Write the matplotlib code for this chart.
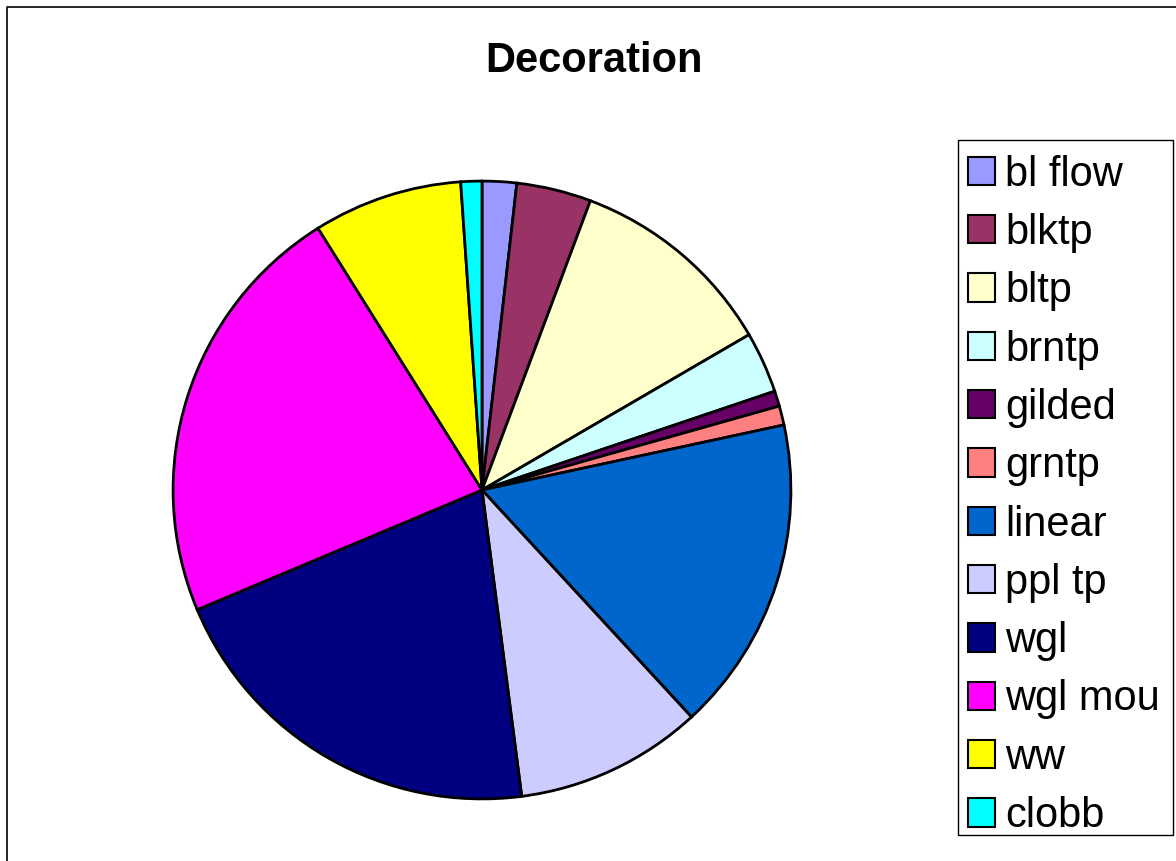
import matplotlib.pyplot as plt
from matplotlib.patches import Rectangle
from matplotlib.lines import Line2D

plt.rcParams["font.family"] = ["Liberation Sans", "DejaVu Sans"]

labels = ["bl flow", "blktp", "bltp", "brntp", "gilded", "grntp",
          "linear", "ppl tp", "wgl", "wgl mou", "ww", "clobb"]
values = [1.8, 3.9, 10.9, 3.2, 0.8, 1.0, 16.5, 9.8, 20.7, 22.4, 7.8, 1.1]
colors = ["#9999FF", "#993366", "#FFFFCC", "#CCFFFF", "#660066", "#FF8080",
          "#0066CC", "#CCCCFF", "#000080", "#FF00FF", "#FFFF00", "#00FFFF"]

W, H = 1176, 861
fig = plt.figure(figsize=(W / 100, H / 100), dpi=100)

# outer chart border (only top and left edges are inside the picture)
fig.add_artist(Line2D([7 / W, 7 / W, 1.0], [0.0, 1 - 7 / H, 1 - 7 / H],
                      transform=fig.transFigure, color="black", linewidth=1.2))

cx, cy, r = 482, 490, 312
ax = fig.add_axes([(cx - r) / W, (H - cy - r) / H, 2 * r / W, 2 * r / H])
wedges, _ = ax.pie(values, colors=colors, startangle=90, counterclock=False,
                   radius=1.0,
                   wedgeprops=dict(edgecolor="black", linewidth=2))
ax.set_xlim(-1.01, 1.01)
ax.set_ylim(-1.01, 1.01)
ax.set_aspect("equal")
ax.axis("off")

fig.text(594 / W, 1 - 61 / H, "Decoration", ha="center", va="center",
         fontsize=30, fontweight="bold")

# legend box drawn separately so its size matches the original
fig.patches.append(Rectangle((958 / W, (H - 835) / H), (1173 - 958) / W,
                             (835 - 140) / H, transform=fig.transFigure,
                             fill=False, edgecolor="black", linewidth=1))
leg = fig.legend(wedges, labels, loc="upper left",
                 bbox_to_anchor=(955 / W, 1 - 142 / H),
                 fontsize=30, frameon=False,
                 handlelength=0.67, handleheight=0.67, handletextpad=0.24,
                 labelspacing=0.44, borderpad=0.3, borderaxespad=0)
for h in leg.legend_handles:
    h.set_linewidth(1.5)

fig.savefig("out.png", dpi=100)
